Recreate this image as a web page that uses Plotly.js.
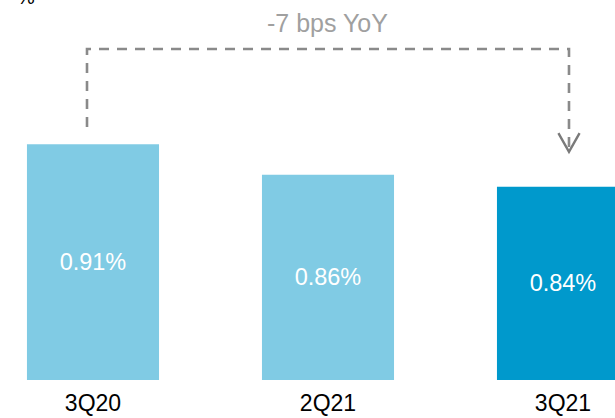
<!DOCTYPE html>
<html>
<head>
<meta charset="utf-8">
<script src="https://cdn.plot.ly/plotly-3.0.1.min.js"></script>
<style>html,body{margin:0;padding:0;background:#fff;}#chart{width:615px;height:418px;}</style>
</head>
<body>
<div id="chart"></div>
<script>
const categories = ["3Q20", "2Q21", "3Q21"];
const values = [0.91, 0.86, 0.84];
const valueLabels = ["0.91%", "0.86%", "0.84%"];
const barColors = ["#80cbe4", "#80cbe4", "#0099cc"];
const changeLabel = "-7 bps YoY";
const unitLabel = "%";

const yFloor = 0.522, yTop = 1.1476;
const FONT = "Liberation Sans, Arial, sans-serif";

const trace = {
  type: "bar",
  x: categories,
  y: values.map(v => v - yFloor),
  base: yFloor,
  width: 0.562,
  marker: { color: barColors, line: { width: 0 } },
  text: valueLabels,
  textposition: "inside",
  insidetextanchor: "middle",
  textangle: 0,
  textfont: { family: FONT, size: 23.5, color: "#ffffff" },
  hoverinfo: "skip"
};

const xL = -0.0255, xR = 2.0255;
const yH = 1.067, yLow = 0.9386, yTip = 0.8975;
const chevW = 0.045, chevH = 0.031;

const layout = {
  width: 615, height: 418,
  margin: { l: 0, r: 0, t: 0, b: 38, pad: 0 },
  paper_bgcolor: "#ffffff", plot_bgcolor: "#ffffff",
  showlegend: false,
  xaxis: {
    type: "category",
    range: [-0.3957, 2.2213],
    showgrid: false, zeroline: false, showline: false, ticks: "",
    tickfont: { family: FONT, size: 23, color: "#000000" },
    ticklabelstandoff: 7,
    fixedrange: true
  },
  yaxis: { range: [yFloor, yTop], visible: false, fixedrange: true },
  shapes: [
    {
      type: "path", xref: "x", yref: "y",
      path: `M ${xL},${yLow} L ${xL},${yH} L ${xR},${yH} L ${xR},${yTip + 0.004}`,
      line: { color: "#8a8a8a", width: 2.6, dash: "10px,8px" }
    },
    {
      type: "path", xref: "x", yref: "y",
      path: `M ${xR - chevW},${yTip + chevH} L ${xR},${yTip} L ${xR + chevW},${yTip + chevH}`,
      line: { color: "#7a7a7a", width: 2.4 }
    }
  ],
  annotations: [
    {
      text: changeLabel, x: 1, y: 1, xref: "x", yref: "paper",
      xanchor: "center", yanchor: "top", yshift: -7, showarrow: false,
      font: { family: FONT, size: 25, color: "#a0a0a0" }
    },
    {
      text: unitLabel, x: 0.042, xref: "paper", y: 1, yref: "paper",
      xanchor: "center", yanchor: "bottom", yshift: -10, showarrow: false,
      font: { family: FONT, size: 20, color: "#000000" }
    }
  ]
};

Plotly.newPlot("chart", [trace], layout, { displayModeBar: false, staticPlot: true });
</script>
</body>
</html>
